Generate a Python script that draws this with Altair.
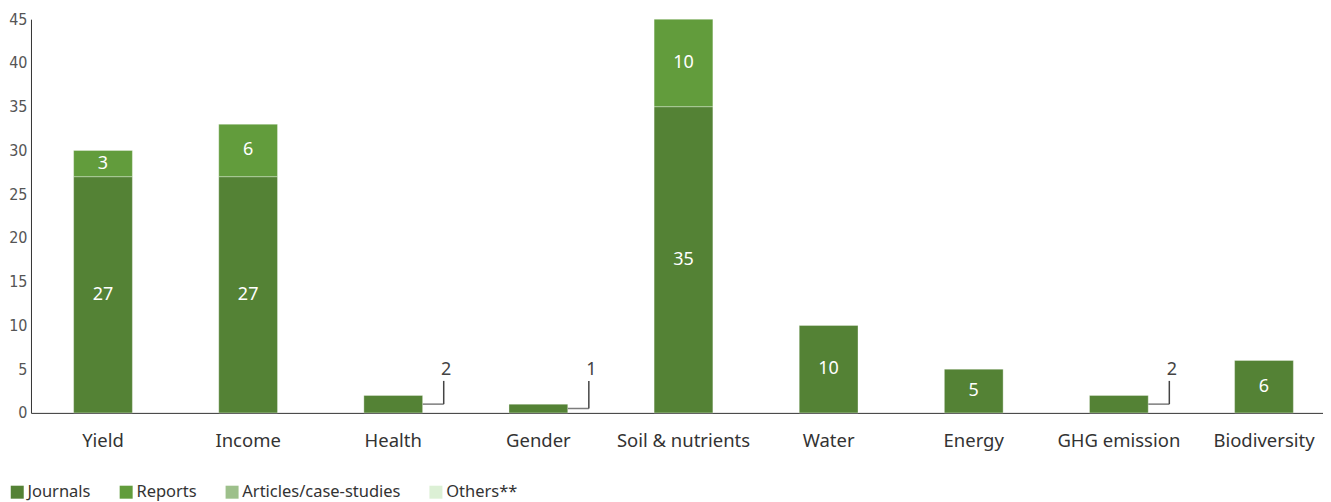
import altair as alt
import pandas as pd

categories = ["Yield", "Income", "Health", "Gender", "Soil & nutrients",
              "Water", "Energy", "GHG emission", "Biodiversity"]
series = ["Journals", "Reports", "Articles/case-studies", "Others**"]
colors = ["#548235", "#629c3c", "#9dc08b", "#dcf0d5"]

journals = [27, 27, 2, 1, 35, 10, 5, 2, 6]
reports = [3, 6, 0, 0, 10, 0, 0, 0, 0]
articles = [0, 0, 0, 0, 0, 0, 0, 0, 0]
others = [0, 0, 0, 0, 0, 0, 0, 0, 0]

rows = []
for i, c in enumerate(categories):
    for k, (s, vals) in enumerate(zip(series, [journals, reports, articles, others])):
        if vals[i] > 0:
            rows.append({"category": c, "series": s, "value": vals[i], "order": k})
df = pd.DataFrame(rows)

FONT = "Noto Sans"
NARROW = "Liberation Sans Narrow, DejaVu Sans Condensed, sans-serif"

x_enc = alt.X("category:N", sort=categories,
              scale=alt.Scale(paddingInner=0.595, paddingOuter=0.249, align=0.59),
              axis=alt.Axis(title=None, labelAngle=0, ticks=False, domainColor="#333333",
                            labelColor="#333333", labelFont=FONT, labelFontSize=18.5,
                            labelPadding=19))

base = alt.Chart(df)

bars = base.mark_bar(stroke="#ffffff", strokeOpacity=0.35, strokeWidth=1).encode(
    x=x_enc,
    y=alt.Y("value:Q", stack="zero",
            scale=alt.Scale(domain=[0, 45], nice=False),
            axis=alt.Axis(title=None, values=list(range(0, 46, 5)), grid=False, ticks=False,
                          domainColor="#333333", labelColor="#555555", labelFont=NARROW,
                          labelFontSize=16, labelPadding=4)),
    color=alt.Color("series:N",
                    scale=alt.Scale(domain=series, range=colors),
                    legend=alt.Legend(title=None, orient="none", direction="horizontal",
                                      legendX=-22, legendY=465, symbolType="square",
                                      symbolSize=169, symbolStrokeWidth=0, labelFont=FONT,
                                      labelFontSize=16.5, labelColor="#333333",
                                      labelOffset=2, columnPadding=27, padding=0)),
    order=alt.Order("order:Q"),
)

inside = base.transform_stack(
    stack="value", groupby=["category"], as_=["y0", "y1"],
    sort=[alt.SortField("order", order="ascending")]
).transform_calculate(
    mid="(datum.y0 + datum.y1) / 2"
).transform_filter("datum.value >= 3").mark_text(
    color="white", font=FONT, fontSize=18
).encode(x=alt.X("category:N", sort=categories), y=alt.Y("mid:Q"), text="value:Q")

small = base.transform_filter("datum.value < 3").transform_calculate(
    mid="datum.value / 2")

hline = small.mark_tick(orient="horizontal", size=21, thickness=1.5, xOffset=40,
                        color="#444444").encode(
    x=alt.X("category:N", sort=categories), y="mid:Q")
vline = small.mark_rule(xOffset=50.5, color="#444444", strokeWidth=1.5).encode(
    x=alt.X("category:N", sort=categories), y="mid:Q", y2=alt.value(362))
small_txt = small.mark_text(xOffset=53, color="#444444", font=FONT, fontSize=18).encode(
    x=alt.X("category:N", sort=categories), y=alt.value(351), text="value:Q")

chart = alt.layer(bars, inside, hline, vline, small_txt).properties(
    width=1293, height=394, padding={"left": 0, "top": 3, "right": 0, "bottom": 0}
).configure_view(stroke=None)

chart.save("out.html", embed_options={"renderer": "svg", "actions": False})
